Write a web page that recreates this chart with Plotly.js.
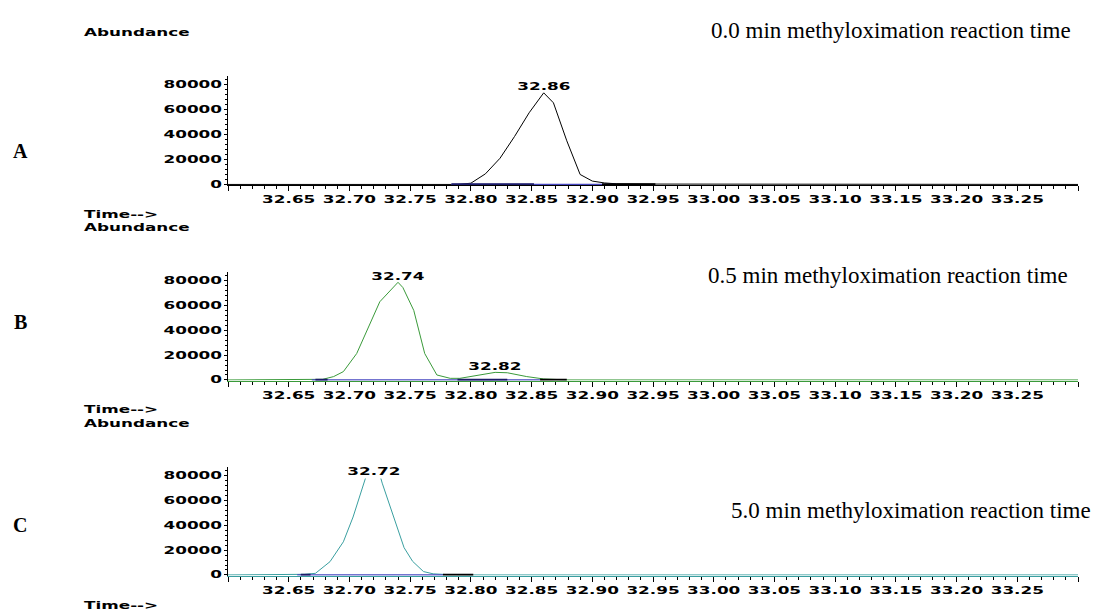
<!DOCTYPE html>
<html>
<head>
<meta charset="utf-8">
<script src="https://cdn.plot.ly/plotly-3.0.1.min.js"></script>
<style>
  html, body { margin: 0; padding: 0; background: #ffffff; }
  #chart { width: 1096px; height: 612px; }
</style>
</head>
<body>
<div id="chart"></div>
<script>
// ---- Axis ticks -----------------------------------------------------------
const tickTimes  = [32.60, 32.65, 32.70, 32.75, 32.80, 32.85, 32.90, 32.95, 33.00, 33.05, 33.10, 33.15, 33.20, 33.25, 33.30];
const tickLabels = ['', '32.65', '32.70', '32.75', '32.80', '32.85', '32.90', '32.95', '33.00', '33.05', '33.10', '33.15', '33.20', '33.25', ''];
const abundTicks  = [0, 20000, 40000, 60000, 80000];
const abundLabels = ['0', '20000', '40000', '60000', '80000'];

const panelLetters  = ['A', 'B', 'C'];
const reactionTimes = ['0.0', '0.5', '5.0'];

// ---- Chromatogram A : 0.0 min -----------------------------------------------
const timeA  = [32.60, 32.790, 32.800, 32.812, 32.824, 32.836, 32.848, 32.860, 32.868, 32.879, 32.890, 32.900, 32.910, 32.920, 32.952, 33.30];
const abundA = [0, 0, 1000, 8500, 21000, 38500, 57500, 73500, 65500, 35000, 8000, 2700, 1200, 500, 300, 0];
const peaksA = [32.86];
const intBlueA  = [[32.784, 32.920]];
const intNavyA  = [[32.784, 32.852]];
const intBlackA = [[32.908, 32.952]];

// ---- Chromatogram B : 0.5 min -----------------------------------------------
const timeB  = [32.60, 32.669, 32.678, 32.687, 32.695, 32.706, 32.714, 32.725, 32.740, 32.744, 32.753, 32.762, 32.772, 32.783, 32.791, 32.802, 32.820, 32.830, 32.846, 32.860, 32.879, 33.30];
const abundB = [0, 0, 500, 2700, 6700, 21300, 38700, 63000, 78700, 74500, 56000, 21300, 4000, 1300, 1300, 3200, 6100, 5800, 2700, 800, 0, 0];
const peaksB = [32.74, 32.82];
const intBlueB  = [[32.669, 32.857]];
const intNavyB  = [[32.672, 32.682], [32.789, 32.830]];
const intBlackB = [[32.857, 32.879]];

// ---- Chromatogram C : 5.0 min -----------------------------------------------
const timeC  = [32.60, 32.657, 32.663, 32.672, 32.684, 32.695, 32.703, 32.713, 32.720, 32.727, 32.737, 32.745, 32.752, 32.761, 32.769, 32.780, 32.802, 33.30];
const abundC = [0, 0, 500, 1300, 10700, 26700, 46700, 77300, 98000, 74000, 45000, 22000, 11000, 2700, 900, 300, 0, 0];
const peaksC = [32.72];
const intBlueC  = [[32.657, 32.777]];
const intNavyC  = [[32.660, 32.668]];
const intBlackC = [[32.777, 32.802]];

// ---- Page geometry and styling -------------------------------------------------
const W = 1096, H = 612;
const px = x => x / W;
const py = y => 1 - y / H;
const INST_FONT = 'DejaVu Sans';
const INST_WEIGHT = 700;
const SERIF = 'Liberation Serif, Times New Roman, serif';
const STRETCH = 1.68;   // wide instrument-printout lettering

const panels = [
  { time: timeA, abund: abundA, peaks: peaksA, blue: intBlueA, navy: intNavyA, black: intBlackA,
    color: '#000000', plotTop: 76,  plotBottom: 185,   abundY: 32,  arrowY: 214, letterY: 151, titleY: 30,  titleRight: 1073 },
  { time: timeB, abund: abundB, peaks: peaksB, blue: intBlueB, navy: intNavyB, black: intBlackB,
    color: '#3a9a3a', plotTop: 272, plotBottom: 380.5, abundY: 227, arrowY: 409, letterY: 322, titleY: 276, titleRight: 1070 },
  { time: timeC, abund: abundC, peaks: peaksC, blue: intBlueC, navy: intNavyC, black: intBlackC,
    color: '#3a9fa0', plotTop: 467, plotBottom: 575.5, abundY: 423, arrowY: 605, letterY: 525, titleY: 510, titleRight: 1093 }
];

function segmentTrace(pairs, color, width, s) {
  const x = [], y = [];
  pairs.forEach(p => { x.push(p[0], p[1], null); y.push(0, 0, null); });
  return { x, y, mode: 'lines', line: { color, width }, xaxis: 'x' + s, yaxis: 'y' + s, hoverinfo: 'skip' };
}

const instFont = { family: INST_FONT, size: 10, color: '#000000', weight: INST_WEIGHT };
const traces = [];
const annotations = [];
const layout = {
  width: W, height: H,
  margin: { l: 0, r: 0, t: 0, b: 0 },
  paper_bgcolor: '#ffffff', plot_bgcolor: '#ffffff',
  showlegend: false
};

panels.forEach((p, i) => {
  const s = i === 0 ? '' : String(i + 1);

  traces.push({ x: p.time, y: p.abund, mode: 'lines', line: { color: p.color, width: 1 },
                xaxis: 'x' + s, yaxis: 'y' + s, hoverinfo: 'skip' });
  traces.push(segmentTrace(p.blue,  '#4646c0', 1.5, s));
  traces.push(segmentTrace(p.navy,  '#1c1c6a', 2.5, s));
  traces.push(segmentTrace(p.black, '#000000', 2.5, s));

  layout['xaxis' + s] = {
    domain: [px(228), px(1078)], range: [32.60, 33.30], anchor: 'y' + s,
    showline: true, linecolor: p.color, linewidth: 1, layer: 'below traces',
    showgrid: false, zeroline: false,
    tickmode: 'array', tickvals: tickTimes, ticktext: tickLabels, tickangle: 0,
    ticks: 'outside', ticklen: 5, tickwidth: 1, tickcolor: '#000000',
    minor: { ticks: 'outside', ticklen: 3, tickwidth: 1, tickcolor: '#000000', tickmode: 'linear', tick0: 32.60, dtick: 0.01 },
    tickfont: instFont,
    fixedrange: true
  };
  layout['yaxis' + s] = {
    domain: [py(p.plotBottom), py(p.plotTop)], range: [-450, 87000], anchor: 'x' + s,
    showline: true, linecolor: '#000000', linewidth: 1, layer: 'below traces',
    showgrid: false, zeroline: false,
    tickmode: 'array', tickvals: abundTicks, ticktext: abundLabels,
    ticks: 'outside', ticklen: 3, tickwidth: 1, tickcolor: '#000000',
    minor: { ticks: 'outside', ticklen: 2, tickwidth: 1, tickcolor: '#000000', tickmode: 'linear', tick0: 0, dtick: 4000 },
    tickfont: instFont,
    fixedrange: true
  };

  // Peak retention-time labels, placed just above each apex
  p.peaks.forEach(t => {
    const idx = p.time.indexOf(t);
    const top = Math.min(p.abund[idx] + 5000, 83000);
    annotations.push({
      xref: 'x' + s, yref: 'y' + s, x: t, y: top, text: t.toFixed(2), showarrow: false,
      xanchor: 'center', yanchor: 'middle', align: 'center',
      font: instFont,
      bgcolor: p.abund[idx] > 83000 ? '#ffffff' : 'rgba(0,0,0,0)', borderpad: 1
    });
  });

  annotations.push({
    xref: 'paper', yref: 'paper', x: px(82), y: py(p.abundY), text: 'Abundance', showarrow: false,
    xanchor: 'left', yanchor: 'middle', align: 'left', font: instFont
  });
  annotations.push({
    xref: 'paper', yref: 'paper', x: px(82), y: py(p.arrowY), text: 'Time-->', showarrow: false,
    xanchor: 'left', yanchor: 'middle', align: 'left', font: instFont
  });
  annotations.push({
    xref: 'paper', yref: 'paper', x: px(20), y: py(p.letterY), text: panelLetters[i], showarrow: false,
    xanchor: 'center', yanchor: 'middle',
    font: { family: SERIF, size: 20, color: '#000000', weight: 700 }
  });
  annotations.push({
    xref: 'paper', yref: 'paper', x: px(p.titleRight), y: py(p.titleY),
    text: reactionTimes[i] + ' min methyloximation reaction time', showarrow: false,
    xanchor: 'right', yanchor: 'middle', align: 'right',
    font: { family: SERIF, size: 23, color: '#000000' }
  });
});

layout.annotations = annotations;

Plotly.newPlot('chart', traces, layout, { staticPlot: true, displayModeBar: false }).then(gd => {
  // widen the instrument lettering
  gd.querySelectorAll('text').forEach(t => {
    const fam = t.style.fontFamily || t.getAttribute('font-family') || '';
    if (fam.indexOf('DejaVu') < 0) return;
    const w = t.getComputedTextLength();
    if (w > 0) {
      t.setAttribute('textLength', (w * STRETCH).toFixed(1));
      t.setAttribute('lengthAdjust', 'spacingAndGlyphs');
    }
  });
});
</script>
</body>
</html>
